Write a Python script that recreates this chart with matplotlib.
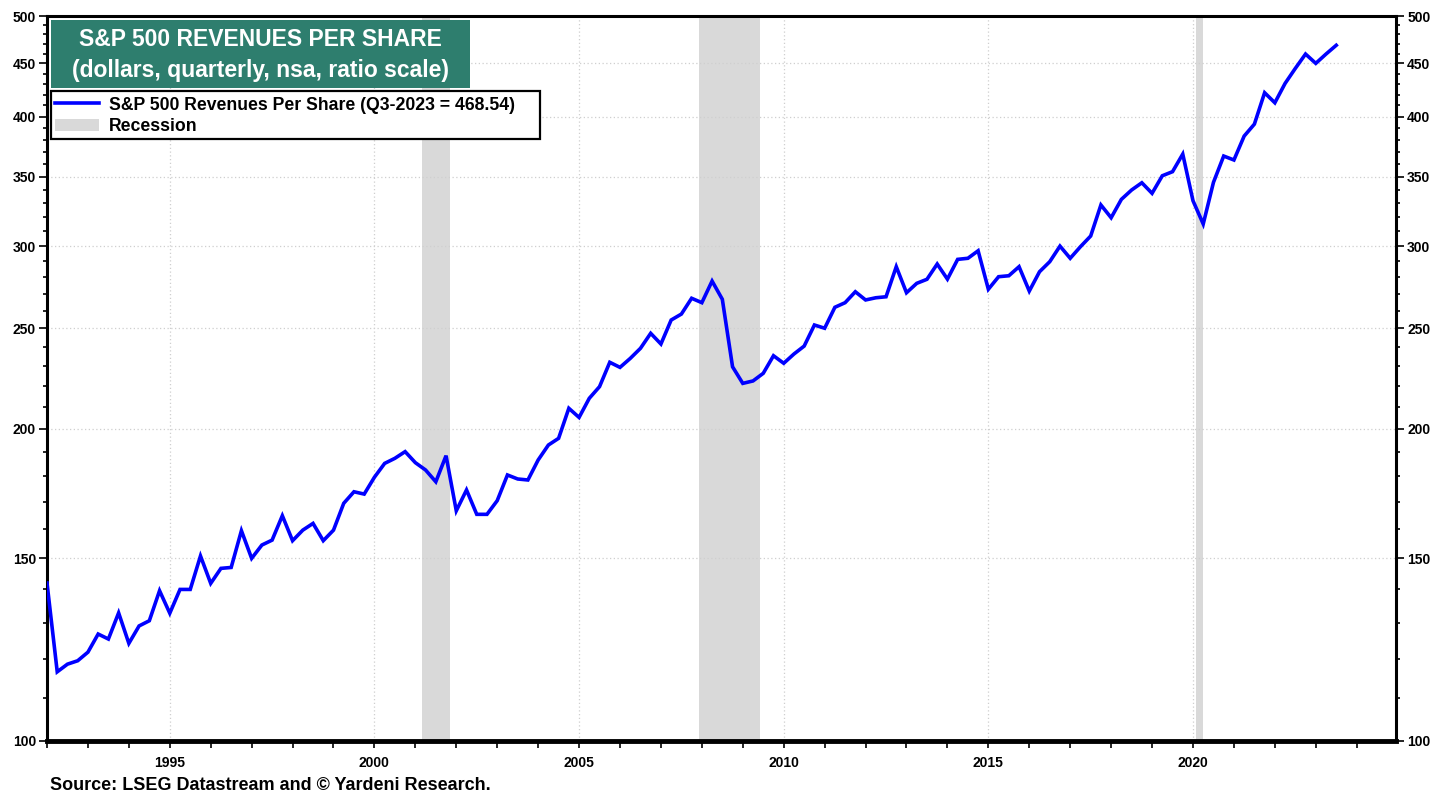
import matplotlib
matplotlib.use("Agg")
import matplotlib.pyplot as plt
from matplotlib.patches import Rectangle, Patch
from matplotlib.lines import Line2D
from matplotlib.ticker import FixedLocator, NullFormatter

# quarterly S&P 500 revenues per share, Q1-1992 .. Q3-2023
start_year = 1992
revenues = [
    142.0, 116.6, 118.6, 119.5, 121.8, 126.8, 125.4, 132.9,
    124.2, 129.1, 130.6, 139.6, 132.8, 140.0, 140.0, 150.8,
    141.9, 146.7, 147.0, 159.5, 150.0, 154.5, 156.2, 164.9,
    156.0, 159.7, 162.1, 156.0, 159.7, 169.5, 173.9, 173.0,
    179.6, 185.2, 187.3, 190.1, 185.5, 182.5, 177.8, 188.4,
    166.7, 174.6, 165.4, 165.4, 170.5, 180.5, 178.9, 178.5,
    186.6, 192.9, 195.8, 209.3, 205.1, 214.0, 219.6, 231.8,
    229.2, 233.8, 239.1, 247.2, 241.4, 254.6, 258.0, 267.2,
    264.6, 277.6, 266.6, 229.5, 221.2, 222.4, 226.2, 235.2,
    231.3, 236.1, 240.3, 251.8, 250.0, 261.9, 264.6, 271.1,
    266.2, 267.5, 268.1, 286.6, 270.5, 276.2, 278.7, 288.3,
    278.8, 291.3, 292.0, 296.9, 272.6, 280.3, 280.9, 286.6,
    271.5, 283.4, 289.8, 300.0, 292.0, 299.6, 306.8, 328.7,
    319.5, 332.8, 339.8, 345.3, 337.3, 350.7, 353.9, 368.0,
    331.8, 315.1, 345.6, 366.4, 363.2, 383.0, 393.3, 421.7,
    412.4, 430.5, 445.1, 459.5, 450.1, 459.5, 468.54,
]
dates = [start_year + i / 4 for i in range(len(revenues))]

recession_start = [2001.17, 2007.92, 2020.08]
recession_end = [2001.84, 2009.42, 2020.25]

y_ticks = [100, 150, 200, 250, 300, 350, 400, 450, 500]
x_ticks = [1995, 2000, 2005, 2010, 2015, 2020]

title_lines = ["S&P 500 REVENUES PER SHARE", "(dollars, quarterly, nsa, ratio scale)"]
series_label = "S&P 500 Revenues Per Share (Q3-2023 = 468.54)"
source = "Source: LSEG Datastream and \u00a9 Yardeni Research."

plt.rcParams['font.family'] = ['Liberation Sans', 'DejaVu Sans']
plt.rcParams['font.weight'] = 'bold'

W, H = 1451, 797
fig = plt.figure(figsize=(W / 100, H / 100), dpi=100)
ax = fig.add_axes([47 / W, 1 - 741 / H, (1396 - 47) / W, (741 - 16) / H])

for s, e in zip(recession_start, recession_end):
    ax.axvspan(s, e, color='#d9d9d9', lw=0, zorder=1)

ax.plot(dates, revenues, color='#0000ff', lw=2.6, zorder=3, solid_joinstyle='miter')

ax.set_yscale('log')
ax.set_ylim(100, 500)
ax.set_xlim(1992.0, 2024.96)

ax.yaxis.set_major_locator(FixedLocator(y_ticks))
ax.yaxis.set_minor_locator(FixedLocator([v for v in range(110, 500, 10) if v % 50]))
ax.yaxis.set_minor_formatter(NullFormatter())
ax.set_yticklabels([str(v) for v in y_ticks])
ax.set_xticks(x_ticks)
ax.set_xticklabels([str(v) for v in x_ticks])
ax.xaxis.set_minor_locator(FixedLocator(range(1992, 2025)))

ax.tick_params(axis='y', which='both', left=True, right=True, labelleft=True,
               labelright=True, direction='out', labelsize=10, width=1.2, pad=2)
ax.tick_params(axis='y', which='major', length=6)
ax.tick_params(axis='y', which='minor', length=3)
ax.tick_params(axis='x', which='both', direction='out', labelsize=10, width=1.2, length=5, pad=6)

ax.grid(True, which='major', color='#cfcfcf', ls=(0, (1, 2)), lw=0.9, zorder=0)

for side in ['left', 'right', 'top']:
    ax.spines[side].set_linewidth(2.2)
ax.spines['bottom'].set_linewidth(3.5)

# title box
fig.patches.append(Rectangle((51 / W, 1 - 88 / H), 419 / W, 68 / H,
                             transform=fig.transFigure, facecolor='#2e7e6e',
                             edgecolor='none', zorder=5))
fig.text(260.5 / W, 1 - 39 / H, title_lines[0], color='white', fontsize=16.5,
         fontweight='bold', ha='center', va='center', zorder=6)
fig.text(260.5 / W, 1 - 71 / H, title_lines[1], color='white', fontsize=16.5,
         fontweight='bold', ha='center', va='center', zorder=6)

# legend box
fig.patches.append(Rectangle((51 / W, 1 - 139 / H), 489 / W, 48 / H,
                             transform=fig.transFigure, facecolor='white',
                             edgecolor='black', lw=1.6, zorder=5))
handles = [Line2D([], [], color='#0000ff', lw=2.6),
           Patch(facecolor='#d9d9d9', edgecolor='none')]
leg = fig.legend(handles, [series_label, 'Recession'], loc='upper left',
                 bbox_to_anchor=(52 / W, 1 - 94 / H), fontsize=12.7,
                 frameon=False, borderpad=0.15, labelspacing=0.25,
                 handlelength=2.5, handletextpad=0.6, borderaxespad=0)
leg.set_zorder(6)
for t in leg.get_texts():
    t.set_fontweight('bold')

fig.text(50 / W, 1 - 786 / H, source, fontsize=13, fontweight='bold',
         ha='left', va='center')

fig.savefig('out.png', dpi=100)
